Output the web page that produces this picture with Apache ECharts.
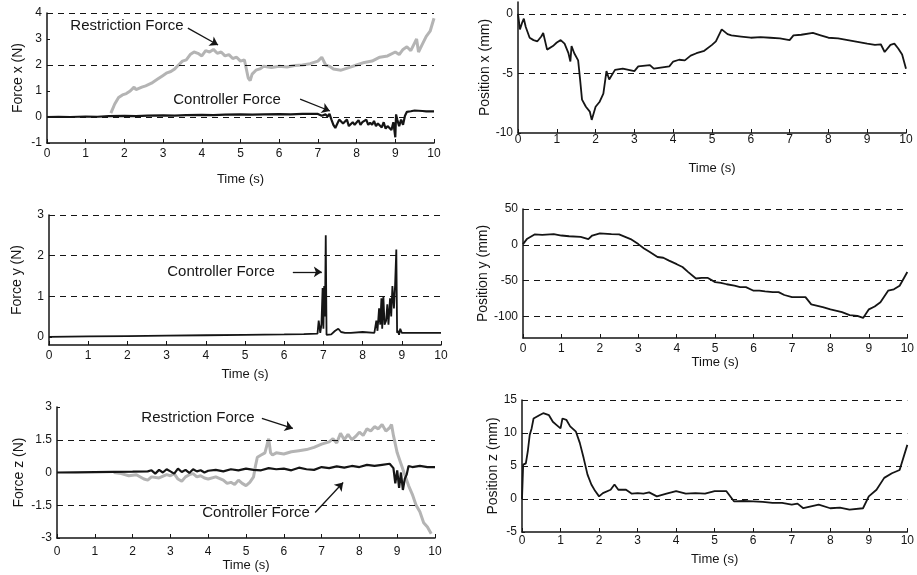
<!DOCTYPE html>
<html><head><meta charset="utf-8">
<script src="https://cdn.jsdelivr.net/npm/echarts@6/dist/echarts.min.js"></script>
<style>html,body{margin:0;padding:0;background:#fff}#c{width:917px;height:575px}</style>
</head><body><div id="c"></div>
<script>
// ---------- DATA ----------
const xTicks = [0,1,2,3,4,5,6,7,8,9,10];

// Force x
const fxCtrlT = [0,0.3,0.6,1,1.3,1.6,2,2.3,2.6,3,3.3,3.6,4,4.3,4.6,5,5.3,5.6,6,6.3,6.6,7,7.1,7.2,7.25,7.3,7.35,7.4,7.45,7.5,7.55,7.6,7.65,7.7,7.75,7.8,7.85,7.9,7.95,8.0,8.05,8.1,8.15,8.2,8.25,8.3,8.35,8.4,8.45,8.5,8.55,8.6,8.65,8.7,8.75,8.8,8.85,8.9,8.95,9.0,9.02,9.05,9.1,9.15,9.2,9.25,9.3,9.4,9.5,9.6,9.7,9.8,9.9,10];
const fxCtrlV = [0,0.01,0,0.02,0.01,0.03,0.04,0.03,0.05,0.06,0.05,0.07,0.08,0.07,0.09,0.1,0.09,0.1,0.11,0.1,0.12,0.12,0.05,0.1,0.02,0.12,-0.1,-0.3,-0.42,-0.35,-0.1,-0.05,-0.25,-0.3,-0.1,-0.35,-0.28,-0.2,-0.3,-0.25,-0.12,-0.3,-0.2,-0.25,-0.1,-0.3,-0.22,-0.3,-0.15,-0.35,-0.25,-0.3,-0.4,-0.2,-0.45,-0.35,-0.3,-0.5,-0.2,-0.78,0.1,-0.1,-0.35,-0.1,-0.3,0.05,0.2,0.22,0.25,0.24,0.23,0.22,0.22,0.22];
const fxRestT = [1.65,1.75,1.85,1.95,2.05,2.15,2.25,2.3,2.35,2.45,2.55,2.7,2.85,3.0,3.1,3.2,3.3,3.4,3.5,3.6,3.7,3.8,3.9,4.0,4.1,4.2,4.3,4.4,4.5,4.6,4.7,4.8,4.9,5.0,5.1,5.2,5.25,5.3,5.4,5.5,5.6,5.8,6.0,6.2,6.4,6.6,6.8,7.0,7.1,7.2,7.3,7.4,7.6,7.8,8.0,8.2,8.4,8.6,8.8,9.0,9.1,9.2,9.3,9.4,9.5,9.55,9.6,9.7,9.8,9.9,10];
const fxRestV = [0.15,0.5,0.75,0.85,0.9,1.0,1.15,1.05,1.1,1.15,1.2,1.3,1.45,1.6,1.7,1.75,1.85,2.0,2.15,2.2,2.4,2.5,2.45,2.35,2.55,2.5,2.6,2.45,2.5,2.35,2.4,2.25,2.3,2.15,2.2,1.5,1.4,1.65,1.8,1.85,1.95,1.9,1.95,1.92,1.98,2.0,2.05,2.15,2.3,2.0,1.95,1.85,1.8,1.9,2.0,2.1,2.15,2.3,2.35,2.5,2.4,2.6,2.7,2.55,2.85,3.0,2.5,2.8,3.1,3.3,3.8];
const fxLabels = [-1,0,1,2,3,4];
const fxGrid = [0,2,4];

// Position x
const pxT = [0,0.05,0.1,0.15,0.2,0.3,0.4,0.5,0.6,0.65,0.75,0.9,1.0,1.1,1.2,1.3,1.35,1.38,1.45,1.55,1.6,1.65,1.75,1.85,1.9,2.0,2.1,2.2,2.25,2.28,2.35,2.5,2.7,3.0,3.1,3.4,3.5,3.9,4.0,4.15,4.3,4.45,4.6,4.8,5.0,5.1,5.25,5.4,5.5,5.75,6.0,6.25,6.5,6.75,7.0,7.1,7.3,7.6,7.8,8.0,8.25,8.5,8.75,9.0,9.2,9.35,9.45,9.6,9.7,9.8,9.9,10];
const pxV = [0,-1.3,-0.8,-0.4,-1.1,-2.0,-2.2,-2.3,-1.9,-1.6,-3.0,-2.7,-2.4,-2.2,-2.5,-3.3,-4.0,-2.7,-3.3,-3.9,-5.5,-7.2,-7.8,-8.2,-8.9,-7.8,-7.4,-6.7,-6.8,-4.8,-5.5,-4.7,-4.6,-4.8,-4.4,-4.3,-4.6,-4.4,-4.0,-3.85,-3.9,-3.5,-3.3,-3.1,-2.6,-2.3,-1.3,-1.7,-1.8,-1.9,-2.0,-1.95,-2.0,-2.05,-2.2,-1.8,-1.75,-1.6,-1.8,-2.0,-2.05,-2.2,-2.35,-2.5,-2.6,-2.55,-3.2,-2.6,-2.5,-2.9,-3.4,-4.6];
const pxLabels = [-10,-5,0];
const pxGrid = [-5,0];

// Force y
const fyT = [0,1,2,3,4,5,6,6.5,6.85,6.88,6.92,6.95,6.98,7.0,7.02,7.04,7.06,7.08,7.1,7.12,7.2,7.3,7.38,7.45,7.55,7.7,8.0,8.3,8.35,8.38,8.42,8.45,8.48,8.5,8.53,8.56,8.6,8.63,8.66,8.7,8.73,8.76,8.8,8.83,8.86,8.88,8.9,8.93,8.96,9.0,9.5,10];
const fyV = [0,0.01,0.02,0.03,0.04,0.05,0.06,0.07,0.08,0.4,0.1,0.3,1.2,0.2,1.25,0.5,2.5,0.05,0.04,0.08,0.06,0.15,0.2,0.12,0.1,0.1,0.12,0.1,0.4,0.15,0.7,0.3,0.95,0.2,1.0,0.3,0.4,0.8,0.3,0.95,0.5,1.25,0.7,1.3,2.15,0.1,0.15,0.05,0.2,0.1,0.1,0.1];
const fyLabels = [0,1,2,3];
const fyGrid = [1,2,3];

// Position y
const pyT = [0,0.1,0.3,0.5,0.8,1.0,1.2,1.5,1.7,1.8,2.0,2.3,2.5,2.8,3.0,3.15,3.3,3.5,3.65,3.8,4.0,4.15,4.3,4.5,4.65,4.8,5.0,5.15,5.3,5.5,5.65,5.8,6.0,6.15,6.3,6.5,6.65,6.8,7.0,7.2,7.35,7.5,7.8,8.0,8.3,8.5,8.7,8.85,9.0,9.15,9.3,9.5,9.65,9.8,10];
const pyV = [1,8,14.5,14,15,13,12,11,8,13,16,15,14.5,8,1,-5,-10,-17,-18,-22,-27,-31,-38,-47,-46,-46,-52,-53,-55,-57,-59,-59,-64,-64,-65,-66,-66,-70,-73,-73,-73,-83,-87,-90,-94,-98,-99,-102,-90,-86,-80,-64,-62,-57,-38];
const pyLabels = [-100,-50,0,50];
const pyGrid = [-100,-50,0,50];

// Force z
const fzCtrlT = [0,0.5,1,1.5,2,2.4,2.5,2.6,2.7,2.8,2.9,3.0,3.1,3.2,3.3,3.4,3.5,3.6,3.7,3.8,3.9,4.0,4.2,4.4,4.6,4.8,5.0,5.2,5.4,5.6,5.8,6.0,6.2,6.4,6.6,6.8,7.0,7.2,7.4,7.6,7.8,8.0,8.2,8.4,8.6,8.8,8.9,8.95,9.0,9.05,9.1,9.15,9.2,9.25,9.3,9.4,9.6,9.8,10];
const fzCtrlV = [0,0.01,0.02,0.03,0.04,0.05,0.1,-0.05,0.12,0.0,0.15,0.05,-0.05,0.18,0.02,0.12,-0.02,0.15,0.05,0.1,0.0,0.08,0.12,0.05,0.15,0.1,0.18,0.12,0.1,0.2,0.15,0.18,0.1,0.22,0.15,0.12,0.25,0.2,0.28,0.22,0.3,0.25,0.35,0.3,0.35,0.4,0.2,-0.5,0.1,-0.7,0.0,-0.8,-0.3,-0.1,0.3,0.25,0.3,0.25,0.25];
const fzRestT = [1.5,1.7,1.9,2.1,2.3,2.4,2.5,2.7,2.9,3.0,3.1,3.2,3.3,3.4,3.5,3.6,3.7,3.8,3.9,4.0,4.2,4.4,4.5,4.6,4.7,4.8,4.9,5.0,5.1,5.2,5.25,5.3,5.4,5.5,5.6,5.65,5.7,5.8,6.0,6.2,6.4,6.6,6.8,7.0,7.2,7.3,7.4,7.5,7.6,7.7,7.8,7.9,8.0,8.1,8.2,8.3,8.4,8.5,8.6,8.7,8.8,8.85,8.9,8.95,9.0,9.1,9.2,9.3,9.4,9.5,9.6,9.7,9.8,9.9];
const fzRestV = [0,-0.05,-0.15,-0.1,-0.3,-0.35,-0.2,-0.25,-0.1,-0.15,-0.05,-0.3,-0.4,-0.2,-0.1,-0.05,-0.2,-0.15,-0.25,-0.3,-0.2,-0.35,-0.5,-0.45,-0.55,-0.35,-0.5,-0.6,-0.45,-0.2,0.3,0.7,0.8,0.9,1.55,0.9,0.8,0.9,0.85,0.95,1.0,1.05,1.15,1.3,1.4,1.55,1.35,1.8,1.5,1.75,1.5,1.65,1.85,1.7,2.0,1.9,2.1,2.0,2.2,1.9,2.05,2.2,1.7,1.3,0.9,0.4,-0.1,-0.6,-1.0,-1.5,-1.8,-2.3,-2.5,-2.8];
const fzLabels = [-3,-1.5,0,1.5,3];
const fzGrid = [-1.5,1.5];

// Position z
const pzT = [0,0.03,0.1,0.15,0.2,0.25,0.3,0.45,0.55,0.7,0.8,0.9,1.0,1.05,1.15,1.25,1.4,1.5,1.6,1.7,1.8,1.9,2.0,2.1,2.3,2.4,2.5,2.7,2.85,3.0,3.15,3.3,3.5,3.75,4.0,4.25,4.5,4.75,5.0,5.3,5.5,5.75,6.0,6.25,6.5,6.75,7.0,7.15,7.3,7.5,7.7,8.0,8.25,8.5,8.85,9.0,9.2,9.4,9.6,9.8,10];
const pzV = [0,5.2,5.4,7.2,9.7,10.7,12.2,12.7,13.0,12.7,11.7,11.2,10.7,12.2,12.0,11.0,10.2,8.5,6.2,3.7,2.2,1.2,0.4,0.9,1.4,2.2,1.4,1.4,0.8,0.9,0.8,1.0,0.4,0.8,1.2,0.8,0.9,0.8,1.2,1.2,-0.35,-0.3,-0.35,-0.45,-0.6,-0.6,-0.85,-0.7,-1.4,-1.1,-0.85,-1.4,-1.3,-1.6,-1.4,0.4,1.4,3.2,3.9,4.4,8.2];
const pzLabels = [-5,0,5,10,15];
const pzGrid = [0,5,10,15];

// ---------- CHART ----------
const FONT = 'Liberation Sans, Arial, sans-serif';
const grids = [
  {left:47,top:13,width:387,height:130},
  {left:518,top:2,width:388,height:131},
  {left:49,top:215,width:392,height:130},
  {left:523,top:209,width:389,height:129},
  {left:57,top:407,width:378,height:131},
  {left:522,top:400,width:388,height:132}
];
const yCfg = [
  {name:'Force x (N)',min:-1,max:4,labels:fxLabels,grid:fxGrid,gap:22},
  {name:'Position x (mm)',min:-10,max:1,labels:pxLabels,grid:pxGrid,gap:21},
  {name:'Force y (N)',min:-0.2,max:3,labels:fyLabels,grid:fyGrid,gap:25},
  {name:'Position y (mm)',min:-130,max:50,labels:pyLabels,grid:pyGrid,gap:30},
  {name:'Force z (N)',min:-3,max:3,labels:fzLabels,grid:fzGrid,gap:31},
  {name:'Position z (mm)',min:-5,max:15,labels:pzLabels,grid:pzGrid,gap:17}
];
const xMargins = [5,1,5,5,8,3];
const xNameGaps = [30,29,23,16,20,21];

const pairs = (t,v) => t.map((x,i)=>[x,v[i]]);
const BLACK = '#151515', GRAY = '#b4b4b4';

const xAxis = grids.map((g,i)=>({
  gridIndex:i,type:'value',min:0,max:10,interval:1,
  name:'Time (s)',nameLocation:'middle',nameGap:xNameGaps[i],
  nameTextStyle:{fontFamily:FONT,fontSize:13,color:BLACK},
  axisLine:{onZero:false,lineStyle:{color:BLACK,width:1.5}},
  axisTick:{inside:true,length:4,lineStyle:{color:BLACK}},
  axisLabel:{fontFamily:FONT,fontSize:12,color:BLACK,margin:xMargins[i],customValues:xTicks},
  splitLine:{show:false}
}));
const yAxis = yCfg.map((c,i)=>({
  gridIndex:i,type:'value',min:c.min,max:c.max,
  name:c.name,nameLocation:'middle',nameGap:c.gap,nameRotate:90,
  nameTextStyle:{fontFamily:FONT,fontSize:14,color:BLACK},
  axisLine:{show:true,onZero:false,lineStyle:{color:BLACK,width:1.5}},
  axisTick:{show:true,inside:true,length:3,customValues:c.labels,lineStyle:{color:BLACK}},
  axisLabel:{fontFamily:FONT,fontSize:12,color:BLACK,margin:5,customValues:c.labels},
  splitLine:{show:false}
}));

function gridLines(vals){
  return {silent:true,symbol:'none',label:{show:false},
    lineStyle:{color:BLACK,type:[6,5],width:1},
    data:vals.map(v=>({yAxis:v}))};
}
function arrows(list){
  return {silent:true,symbol:['none','arrow'],symbolSize:8,label:{show:false},
    lineStyle:{color:BLACK,type:'solid',width:1.3},
    data:list.map(a=>[{coord:[a[0],a[1]]},{coord:[a[2],a[3]]}])};
}
function line(i,t,v,color,w,z){
  return {type:'line',xAxisIndex:i,yAxisIndex:i,data:pairs(t,v),showSymbol:false,
    lineStyle:{color:color,width:w},z:z||2,animation:false};
}
function holder(i,ml){
  return {type:'line',xAxisIndex:i,yAxisIndex:i,data:[],markLine:ml};
}

const series = [];
// grid 0
series.push(line(0,fxRestT,fxRestV,GRAY,3,2));
series.push(line(0,fxCtrlT,fxCtrlV,BLACK,2.2,3));
series.push(holder(0,gridLines(fxGrid)));
series.push(holder(0,arrows([[3.64,3.42,4.42,2.77],[6.54,0.69,7.31,0.23]])));
// grid 1
series.push(line(1,pxT,pxV,BLACK,1.8));
series.push(holder(1,gridLines(pxGrid)));
// grid 2
series.push(line(2,fyT,fyV,BLACK,1.8));
series.push(holder(2,gridLines(fyGrid)));
series.push(holder(2,arrows([[6.22,1.6,6.96,1.6]])));
// grid 3
series.push(line(3,pyT,pyV,BLACK,1.8));
series.push(holder(3,gridLines(pyGrid)));
// grid 4
series.push(line(4,fzRestT,fzRestV,GRAY,3,2));
series.push(line(4,fzCtrlT,fzCtrlV,BLACK,2.2,3));
series.push(holder(4,gridLines(fzGrid)));
series.push(holder(4,arrows([[5.42,2.48,6.24,2.02],[6.83,-1.83,7.57,-0.46]])));
// grid 5
series.push(line(5,pzT,pzV,BLACK,1.8));
series.push(holder(5,gridLines(pzGrid)));

const txt = (x,y,t)=>({type:'text',x:x,y:y,style:{text:t,font:'15px '+FONT,fill:BLACK,textAlign:'center',textVerticalAlign:'middle'}});

const chart = echarts.init(document.getElementById('c'),null,{renderer:'canvas'});
chart.setOption({
  animation:false,
  backgroundColor:'#fff',
  grid:grids,
  xAxis:xAxis,
  yAxis:yAxis,
  series:series,
  graphic:[
    txt(127,26,'Restriction Force'),
    txt(227,100,'Controller Force'),
    txt(221,272,'Controller Force'),
    txt(198,418,'Restriction Force'),
    txt(256,513,'Controller Force')
  ]
});
</script></body></html>
